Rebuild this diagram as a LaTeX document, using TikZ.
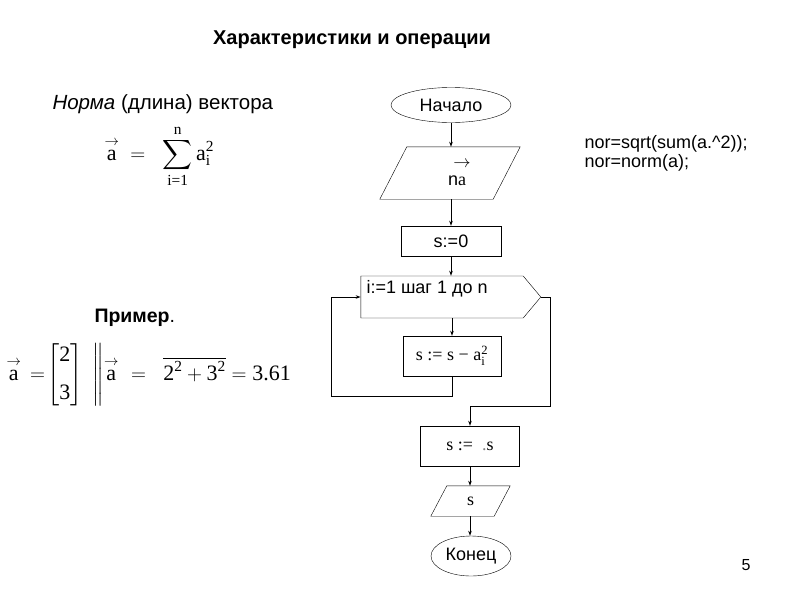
\documentclass[tikz,border=0pt]{standalone}
\usepackage{amsmath}
\usepackage{fontspec}
\setmainfont{Liberation Sans}
\newfontfamily\frmfont{Liberation Serif}
\usetikzlibrary{shapes.geometric,shapes.symbols,arrows.meta,positioning}
\newcommand{\tr}[1]{\text{\frmfont #1}}
\newcommand{\ioshape}[2]{\draw ([xshift=#2]#1.north west) -- (#1.north east) -- ([xshift=-#2]#1.south east) -- (#1.south west) -- cycle;}
\begin{document}
\begin{tikzpicture}[x=1pt,y=-1pt,
    every node/.style={font=\fontsize{18}{21}\selectfont},
    term/.style={draw, ellipse, inner sep=0pt},
    proc/.style={draw, rectangle, inner sep=0pt},
    io/.style={rectangle, inner sep=0pt},
    loopbox/.style={draw, signal, signal to=east, signal pointer angle=100, inner sep=0pt},
    flow/.style={draw, line width=0.8pt, -{Stealth[length=5pt,width=3.5pt]}},
    big/.style={font=\fontsize{20.5}{24}\selectfont},
    frm/.style={font=\frmfont\fontsize{22}{26}\selectfont}]
        \useasboundingbox (0,0) rectangle (800,600);

        \node[font=\bfseries\fontsize{20}{24}\selectfont] (title) at (352,40) {Характеристики и операции};

        \node[big, anchor=west] (normtxt) at (49,104) {\textit{Норма} (длина) вектора};
        \node[frm, anchor=west] (normf) at (101,156) {$\overset{\to}{\tr{a}}\;=\;\;\displaystyle\sum\limits_{\tr{i=1}}^{\tr{n}}\tr{a}_{\tr{i}}^{\tr{2}}$};

        \node[big, anchor=west, font=\fontsize{19.5}{23}\selectfont] (extxt) at (91,318) {\textbf{Пример}.};
        \node[frm, anchor=west] (ex1) at (3,375) {$\overset{\to}{\tr{a}}\,=\!\begin{bmatrix}\tr{2}\\[12pt]\tr{3}\end{bmatrix}$};
        \node[frm, anchor=west] (ex2) at (89,375) {$\left\|\overset{\to}{\tr{a}}\vphantom{\begin{bmatrix}2\\[12pt]3\end{bmatrix}}\right.\;=\;\;\overline{\tr{2}^{\tr{2}}+\tr{3}^{\tr{2}}}=\tr{3.61}$};

        \node[anchor=west] (code1) at (581,144) {nor=sqrt(sum(a.\^{}2));};
        \node[anchor=west] (code2) at (581,163) {nor=norm(a);};

        \node[term, minimum width=120pt, minimum height=35pt] (start) at (451,105) {Начало};
        \node[io, minimum width=140pt, minimum height=52pt] (input) at (450,173) {\hspace*{14pt}n$\overset{\makebox[0pt]{\raisebox{6pt}{$\to$}}}{\tr{a}}$};
        \ioshape{input}{27pt}
        \node[proc, minimum width=100pt, minimum height=30pt] (init) at (451,241) {s:=0};
        \node[loopbox, minimum width=180pt, minimum height=42pt] (loop) at (442,297) {};
        \node[anchor=west] (looptxt) at (363,289) {i:=1 шаг 1 до n};
        \node[proc, minimum width=98pt, minimum height=40pt] (body) at (452,356) {\frmfont s := s − a$_{\tr{i}}^{\tr{2}}$};
        \node[proc, minimum width=99pt, minimum height=40pt] (root) at (470,446) {\frmfont s :=\ \ \textcolor{gray}{.}s};
        \node[io, minimum width=79pt, minimum height=30pt] (output) at (470.5,501) {\frmfont s};
        \ioshape{output}{16pt}
        \node[term, minimum width=80pt, minimum height=40pt] (stop) at (471,556) {Конец};

        \coordinate (back) at (331,396);
        \coordinate (exit) at (550,406);

        \draw[flow] (start) -- (start |- input.north);
        \draw[flow] (start |- input.south) -- (start |- init.north);
        \draw[flow] (start |- init.south) -- (start |- loop.north);
        \draw[flow] (body |- loop.south) -- (body.north);
        \draw[flow] (body.south) |- (back) |- (loop.west);
        \draw[flow] (loop.east) -| (exit) -| (root.north);
        \draw[flow] (root.south) -- (root |- output.north);
        \draw[flow] (root |- output.south) -- (root |- stop.north);

        \node[font=\fontsize{16}{19}\selectfont] (page) at (746,565) {5};
    \end{tikzpicture}
\end{document}
